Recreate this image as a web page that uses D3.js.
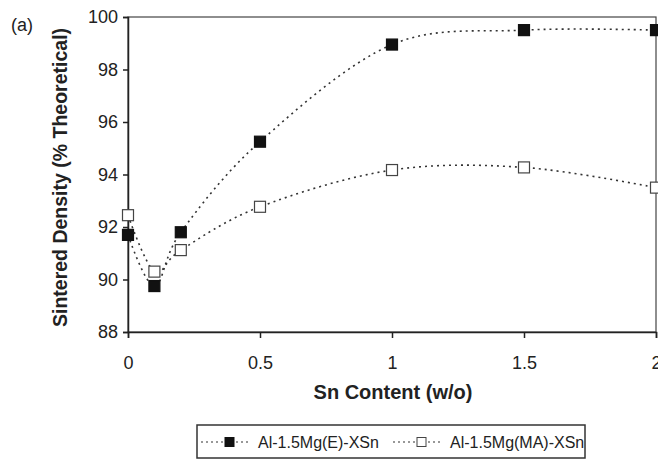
<!DOCTYPE html>
<html>
<head>
<meta charset="utf-8">
<script src="https://cdn.jsdelivr.net/npm/d3@7"></script>
<style>
  body { margin: 0; background: #fff; }
  svg { font-family: 'Liberation Sans', Arial, sans-serif; }
</style>
</head>
<body>
<div id="chart"></div>
<script>
const snContent = [0, 0.1, 0.2, 0.5, 1, 1.5, 2]
const densityE = [91.7, 89.75, 91.8, 95.25, 98.95, 99.5, 99.5]
const densityMA = [92.45, 90.3, 91.12, 92.77, 94.17, 94.27, 93.5]
const xTicks = [0, 0.5, 1, 1.5, 2]
const yTicks = [88, 90, 92, 94, 96, 98, 100]
const seriesNames = ['Al-1.5Mg(E)-XSn', 'Al-1.5Mg(MA)-XSn']

const width = 658
const height = 460
const margin = { top: 17, right: 2, bottom: 128, left: 128 }

const x = d3.scaleLinear()
  .domain([0, 2])
  .range([margin.left, width - margin.right])

const y = d3.scaleLinear()
  .domain([88, 100])
  .range([height - margin.bottom, margin.top])

const svg = d3.select('#chart').append('svg')
  .attr('width', width)
  .attr('height', height)

// frame
svg.append('rect')
  .attr('x', x(0))
  .attr('y', y(100))
  .attr('width', x(2) - x(0))
  .attr('height', y(88) - y(100))
  .attr('fill', 'none')
  .attr('stroke', '#444')
  .attr('stroke-width', 1.2)

const xAxis = svg.append('g')
  .attr('transform', `translate(0,${y(88)})`)
  .call(d3.axisBottom(x).tickValues(xTicks).tickFormat(d3.format('')).tickSize(6).tickPadding(18))
xAxis.select('.domain').attr('stroke', '#222').attr('stroke-width', 1.5)
xAxis.selectAll('.tick line').attr('stroke', '#222').attr('stroke-width', 1.5)
xAxis.selectAll('text').attr('font-size', 18).attr('fill', '#222')
  .attr('font-family', "'Liberation Sans', Arial, sans-serif")

const yAxis = svg.append('g')
  .attr('transform', `translate(${x(0)},0)`)
  .call(d3.axisLeft(y).tickValues(yTicks).tickSize(5).tickPadding(5))
yAxis.select('.domain').attr('stroke', '#222').attr('stroke-width', 1.5)
yAxis.selectAll('.tick line').attr('stroke', '#222').attr('stroke-width', 1.5)
yAxis.selectAll('text').attr('font-size', 18).attr('fill', '#222')
  .attr('font-family', "'Liberation Sans', Arial, sans-serif")

const line = d3.line()
  .x((d, i) => x(snContent[i]))
  .y(d => y(d))
  .curve(d3.curveCatmullRom.alpha(0))

const series = [
  { name: seriesNames[0], values: densityE, fill: '#111' },
  { name: seriesNames[1], values: densityMA, fill: '#fff' }
]

series.forEach(s => {
  svg.append('path')
    .datum(s.values)
    .attr('d', line)
    .attr('fill', 'none')
    .attr('stroke', '#333')
    .attr('stroke-width', 1.6)
    .attr('stroke-dasharray', '2,4')

  svg.append('g')
    .selectAll('rect')
    .data(s.values)
    .enter().append('rect')
    .attr('x', (d, i) => x(snContent[i]) - 5.5)
    .attr('y', d => y(d) - 5.5)
    .attr('width', 11)
    .attr('height', 11)
    .attr('fill', s.fill)
    .attr('stroke', s.fill === '#fff' ? '#444' : '#111')
    .attr('stroke-width', 1.2)
})

// axis titles
svg.append('text')
  .attr('transform', `translate(67,${(y(88) + y(100)) / 2 + 3}) rotate(-90)`)
  .attr('text-anchor', 'middle')
  .attr('font-size', 19.5)
  .attr('font-weight', 'bold')
  .attr('fill', '#222')
  .text('Sintered Density (% Theoretical)')

svg.append('text')
  .attr('x', 393)
  .attr('y', 399)
  .attr('text-anchor', 'middle')
  .attr('font-size', 20)
  .attr('font-weight', 'bold')
  .attr('fill', '#222')
  .text('Sn Content (w/o)')

svg.append('text')
  .attr('x', 11)
  .attr('y', 31)
  .attr('font-size', 18)
  .attr('fill', '#222')
  .text('(a)')

// legend
const legend = svg.append('g').attr('transform', 'translate(197,425)')
legend.append('rect')
  .attr('width', 388)
  .attr('height', 33)
  .attr('fill', '#fff')
  .attr('stroke', '#333')
  .attr('stroke-width', 1.5)

const legendX = [4, 196]
series.forEach((s, i) => {
  const g = legend.append('g').attr('transform', `translate(${legendX[i]},17)`)
  g.append('line')
    .attr('x1', 0).attr('x2', 49)
    .attr('stroke', '#333')
    .attr('stroke-width', 1.2)
    .attr('stroke-dasharray', '2,3')
  g.append('rect')
    .attr('x', 24).attr('y', -4.5)
    .attr('width', 9).attr('height', 9)
    .attr('fill', s.fill)
    .attr('stroke', s.fill === '#fff' ? '#444' : '#111')
  g.append('text')
    .attr('x', 57)
    .attr('y', 6)
    .attr('font-size', 16)
    .attr('fill', '#222')
    .text(s.name)
})
</script>
</body>
</html>
